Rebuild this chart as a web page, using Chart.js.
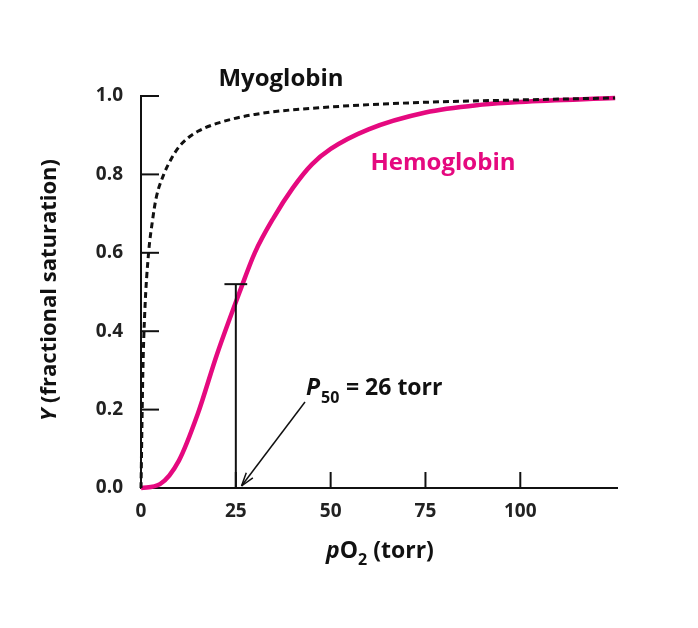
<!DOCTYPE html>
<html><head><meta charset="utf-8">
<script src="https://cdn.jsdelivr.net/npm/chart.js@4"></script>
<style>html,body{margin:0;background:#fff}#c{width:698px;height:628px}</style>
</head><body><div id="c"><canvas id="chart"></canvas></div>
<script>
/*========== Data ==========*/
const hbX=[0,5,10,15,20,26,30,35,40,45,50,60,75,90,100,125];
const hbY=[0,0.01,0.07,0.19,0.34,0.5,0.6,0.69,0.765,0.825,0.865,0.915,0.958,0.978,0.985,0.995];
const mbX=[0,0.5,1,2,3,4,6,8,10,12,15,20,30,50,75,100,125];
const mbY=[0,0.3,0.45,0.6,0.68,0.74,0.8,0.84,0.87,0.89,0.91,0.93,0.953,0.972,0.984,0.99,0.995];
const xTicks=[0,25,50,75,100];
const yTicks=[0,0.2,0.4,0.6,0.8,1.0];
const p50=26, p50Y=0.52, capHalf=2.5;

const pink="#e5097f";
const F="'Open Sans',sans-serif";
const pts=(xs,ys)=>xs.map((x,i)=>({x,y:ys[i]}));

/*========== Decorations ==========*/
const deco={id:"deco",afterDraw(c){
    const g=c.ctx,xs=c.scales.x,ys=c.scales.y,a=c.chartArea;
    const X=v=>xs.getPixelForValue(v),Y=v=>ys.getPixelForValue(v);
    g.save();
    g.strokeStyle="#111";g.lineWidth=2;
    yTicks.slice(1).forEach(v=>{g.beginPath();g.moveTo(a.left,Y(v));g.lineTo(a.left+18,Y(v));g.stroke();});
    xTicks.slice(1).forEach(v=>{g.beginPath();g.moveTo(X(v),a.bottom);g.lineTo(X(v),a.bottom-16);g.stroke();});
    // P50 marker
    g.beginPath();g.moveTo(X(p50-1),a.bottom);g.lineTo(X(p50-1),Y(p50Y));g.stroke();
    g.beginPath();g.moveTo(X(p50-1-capHalf*1.2),Y(p50Y));g.lineTo(X(p50-1+capHalf*1.2),Y(p50Y));g.stroke();
    // arrow
    g.lineWidth=1.5;
    const ax=X(p50+0.5),ay=a.bottom-2;
    g.beginPath();g.moveTo(305,402);g.lineTo(ax,ay);g.stroke();
    const ang=Math.atan2(ay-402,ax-305);
    g.beginPath();g.moveTo(ax,ay);
    g.lineTo(ax-14*Math.cos(ang-0.3),ay-14*Math.sin(ang-0.3));
    g.moveTo(ax,ay);
    g.lineTo(ax-14*Math.cos(ang+0.3),ay-14*Math.sin(ang+0.3));
    g.stroke();
    // texts
    g.fillStyle="#111";g.textBaseline="alphabetic";
    g.font="bold 24px "+F;g.textAlign="center";
    g.fillText("Myoglobin",281,86);
    g.fillStyle=pink;g.fillText("Hemoglobin",443,170);
    g.fillStyle="#111";g.textAlign="left";
    g.font="italic bold 23px "+F;g.fillText("P",306,395);
    g.font="bold 16px "+F;g.fillText("50",321,403);
    g.font="bold 23px "+F;g.fillText(" = 26 torr",340,395);
    // x title
    g.font="italic bold 23px "+F;const w1=g.measureText("p").width;
    g.font="bold 23px "+F;const w2=g.measureText("O").width,w4=g.measureText(" (torr)").width;
    g.font="bold 16px "+F;const w3=g.measureText("2").width;
    let x0=380-(w1+w2+w3+w4)/2;
    g.font="italic bold 23px "+F;g.fillText("p",x0,558);x0+=w1;
    g.font="bold 23px "+F;g.fillText("O",x0,558);x0+=w2;
    g.font="bold 16px "+F;g.fillText("2",x0,565);x0+=w3;
    g.font="bold 23px "+F;g.fillText(" (torr)",x0,558);
    // y title
    g.translate(56,290);g.rotate(-Math.PI/2);
    g.font="italic bold 22px "+F;const wy=g.measureText("Y").width;
    g.font="bold 22px "+F;const wr=g.measureText(" (fractional saturation)").width;
    let y0=-(wy+wr)/2;
    g.font="italic bold 22px "+F;g.fillText("Y",y0,0);
    g.font="bold 22px "+F;g.fillText(" (fractional saturation)",y0+wy,0);
    g.restore();
}};

/*========== Chart ==========*/
new Chart(document.getElementById("chart"),{
    type:"scatter",
    data:{datasets:[
        {label:"Myoglobin",data:pts(mbX,mbY),showLine:true,borderColor:"#111",borderWidth:3,borderDash:[6,4],pointRadius:0,cubicInterpolationMode:"monotone",clip:false},
        {label:"Hemoglobin",data:pts(hbX,hbY),showLine:true,borderColor:pink,borderWidth:4.5,pointRadius:0,cubicInterpolationMode:"monotone",clip:false}
    ]},
    options:{
        responsive:true,maintainAspectRatio:false,animation:false,
        layout:{padding:{top:96,right:81,left:0,bottom:0}},
        plugins:{legend:{display:false},tooltip:{enabled:false}},
        scales:{
            x:{type:"linear",min:0,max:125.5,
                afterBuildTicks:s=>{s.ticks=xTicks.map(v=>({value:v}));},
                afterFit:s=>{s.height=140;},
                grid:{display:false},border:{color:"#111",width:2},
                ticks:{padding:4,color:"#222",font:{family:F,weight:"bold",size:19}}},
            y:{min:0,max:1,
                afterBuildTicks:s=>{s.ticks=yTicks.map(v=>({value:v}));},
                afterFit:s=>{s.width=141;},
                grid:{display:false},border:{color:"#111",width:2},
                ticks:{padding:10,color:"#222",font:{family:F,weight:"bold",size:19},callback:v=>v.toFixed(1)}}
        }
    },
    plugins:[deco]
});
</script></body></html>
